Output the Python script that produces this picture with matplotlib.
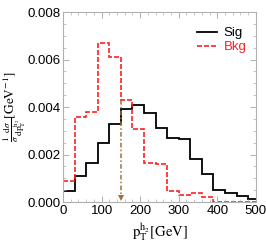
import numpy as np
import matplotlib
matplotlib.use("Agg")
import matplotlib.pyplot as plt
from matplotlib.ticker import MultipleLocator

bin_edges = np.arange(0, 511, 30)
sig = [0.00045, 0.00111, 0.00163, 0.0025, 0.00328, 0.0039, 0.0041, 0.00373,
       0.0031, 0.0027, 0.00264, 0.0018, 0.0012, 0.0005, 0.0004, 0.00027, 0.00013]
bkg = [0.0009, 0.0036, 0.0038, 0.0067, 0.0061, 0.0043, 0.00307, 0.00165,
       0.0016, 0.00045, 0.0003, 0.00038, 0.0002, 0.00002, 0.00002, 0.00002, 0.00002]
cut_value = 150
cut_top = 0.0043

plt.rcParams['font.family'] = ['Liberation Sans', 'DejaVu Sans']
plt.rcParams['mathtext.fontset'] = 'stix'

fig = plt.figure(figsize=(2.66, 2.45), dpi=100)
ax = fig.add_axes([0.237, 0.1755, 0.725, 0.7755])

ax.stairs(sig, bin_edges, baseline=None, color='black', lw=1.3, label='Sig')
ax.stairs(bkg, bin_edges, baseline=None, color='#ff2020', lw=1.2,
          linestyle=(0, (3, 1.2)), label='Bkg')

arrow_color = '#a0703a'
ax.plot([cut_value, cut_value], [cut_top, 0.0003], color=arrow_color,
        lw=1.1, linestyle=(0, (3, 1.5, 1, 1.5)))
ax.plot([cut_value], [0.00018], marker='v', color=arrow_color, ms=4.5, mew=0)

ax.set_xlim(0, 500)
ax.set_ylim(0, 0.008)
ax.xaxis.set_major_locator(MultipleLocator(100))
ax.xaxis.set_minor_locator(MultipleLocator(20))
ax.yaxis.set_major_locator(MultipleLocator(0.002))
ax.yaxis.set_minor_locator(MultipleLocator(0.0005))
ax.yaxis.set_major_formatter(matplotlib.ticker.FormatStrFormatter('%.3f'))

frame_color = '#b0b0b0'
for s in ax.spines.values():
    s.set_color(frame_color)
    s.set_linewidth(0.8)
ax.tick_params(which='both', direction='in', top=True, right=True,
               color=frame_color, labelsize=9.5, labelcolor='black')
ax.tick_params(which='major', length=4, width=0.7, pad=2)
ax.tick_params(which='minor', length=2, width=0.5)

ax.set_xlabel(r'$\mathrm{p}_\mathrm{T}^{\mathrm{h}_2}[\mathrm{GeV}]$', fontsize=10.5, labelpad=3)
ax.set_ylabel(r'$\frac{1}{\sigma}\frac{\mathrm{d}\sigma}{\mathrm{dp}_\mathrm{T}^{\mathrm{h}_2}}[\mathrm{GeV}^{-1}]$',
              fontsize=9.6)
ax.yaxis.set_label_coords(-0.18, 0.5)

leg = ax.legend(loc='upper right', frameon=False, fontsize=9.5, handlelength=1.5,
                handletextpad=0.5, borderaxespad=0.3, labelspacing=0.15,
                bbox_to_anchor=(1.0, 0.97))
for txt, col in zip(leg.get_texts(), ['black', '#ff2020']):
    txt.set_color(col)

fig.savefig('out.png', dpi=100)
